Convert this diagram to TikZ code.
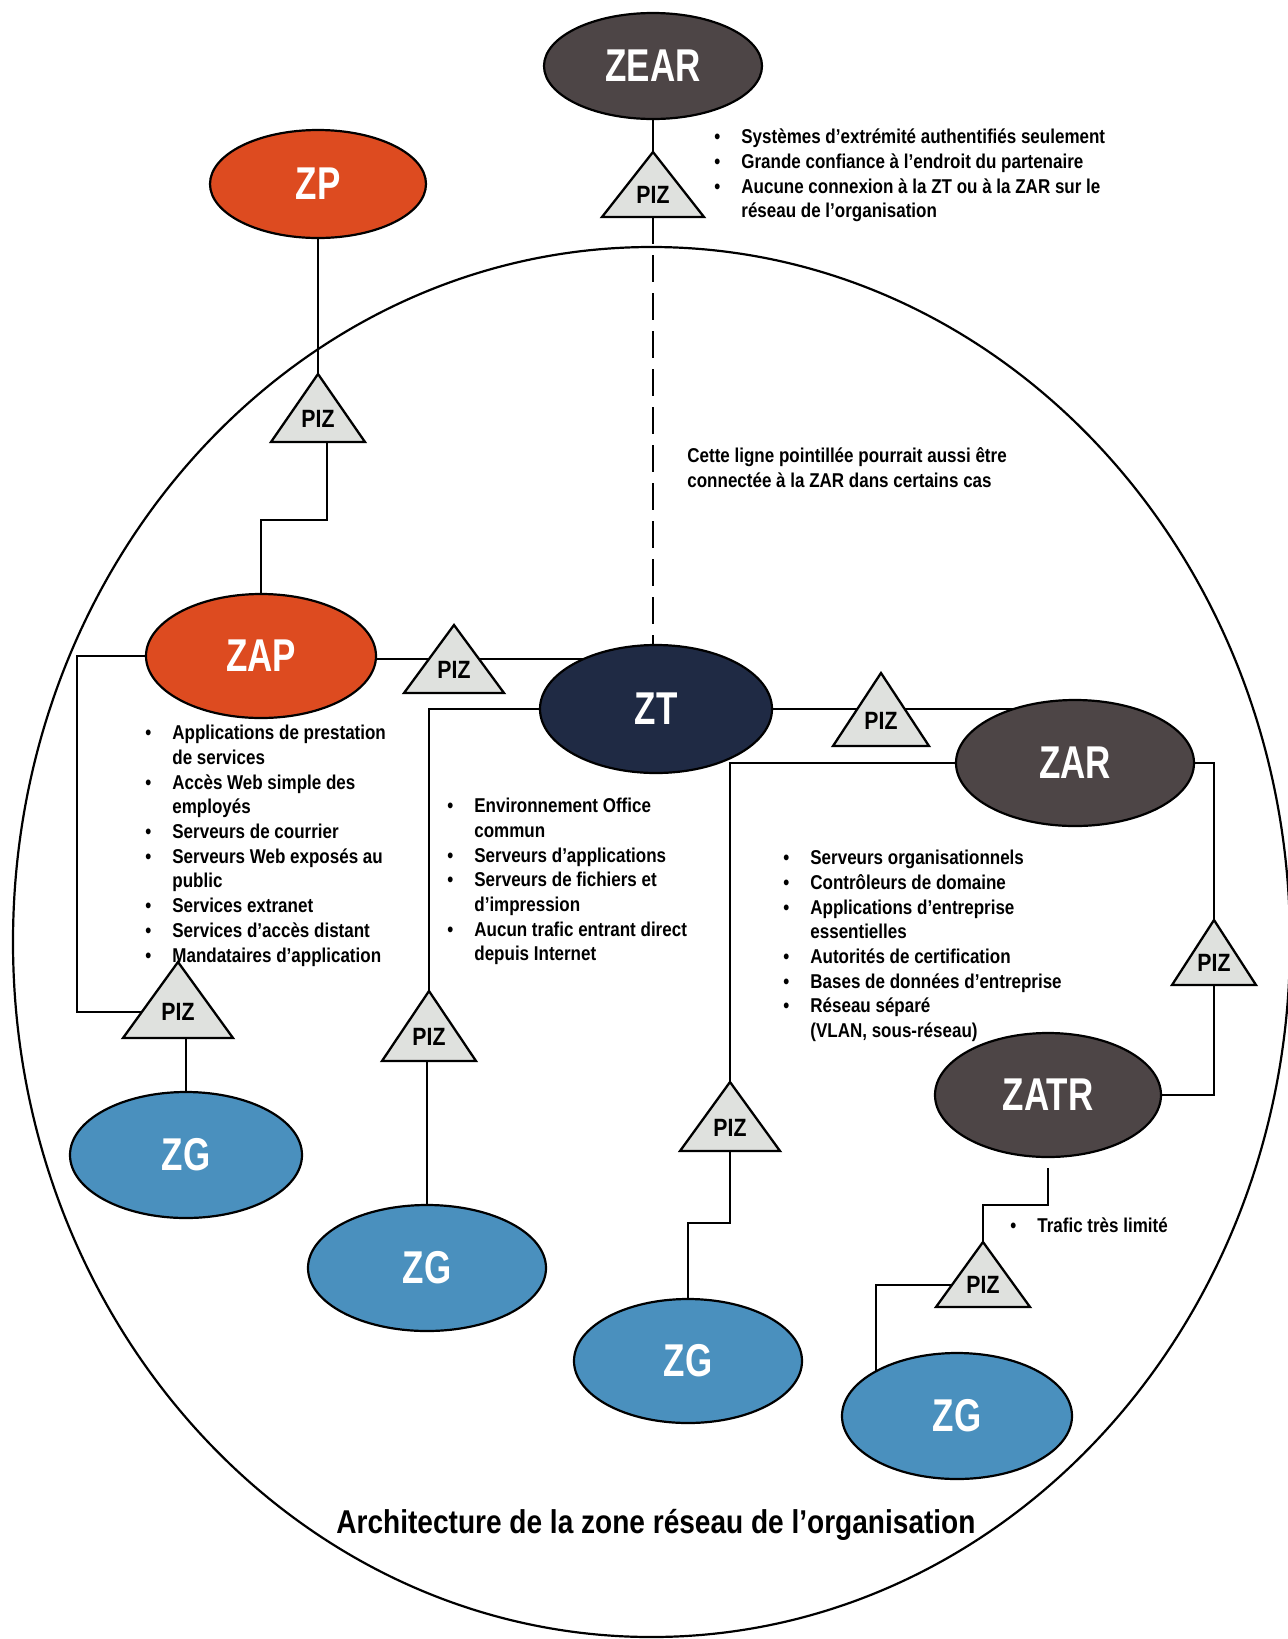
\documentclass[tikz,border=0pt]{standalone}
\usepackage{fontspec}
\setmainfont{Liberation Sans}[FakeStretch=0.85]
\newfontfamily\bigf{Liberation Sans}[FakeStretch=0.76]
\usetikzlibrary{shapes.geometric,calc}
\definecolor{zdark}{HTML}{4D4546}
\definecolor{zorange}{HTML}{DD4B20}
\definecolor{znavy}{HTML}{1F2A44}
\definecolor{zblue}{HTML}{4A90BE}
\definecolor{zgray}{HTML}{DFE1DE}
\pgfdeclarelayer{bg}
\pgfsetlayers{bg,main}
\newcommand\bl{\strut\makebox[13.5pt][l]{\textbullet}}
\newcommand\ct{\strut\hspace*{13.5pt}}
\newcommand\pizdraw[5]{%
  \coordinate (#1a) at (#2,#3);
  \coordinate (#1b) at (#2,#3+#5);
  \draw[tri] (#2,#3) -- (#2+#4,#3+#5) -- (#2-#4,#3+#5) -- cycle;
  \node[piz] (#1) at (#2,#3+0.66*#5) {PIZ};
}
\tikzset{
  zone/.style={ellipse, draw=black, line width=1.1pt, inner sep=0pt, text=white,
    font=\bigf\bfseries\fontsize{23}{26}\selectfont},
  conn/.style={line width=1.15pt, draw=black},
  tri/.style={draw=black, line width=1.15pt, fill=zgray, line join=miter},
  piz/.style={inner sep=0pt, font=\bfseries\fontsize{12.5}{14}\selectfont},
  bullets/.style={anchor=north west, inner sep=0pt, align=left,
    font=\bfseries\fontsize{10}{12.35}\selectfont},
}
\begin{document}
\begin{tikzpicture}[x=0.5pt,y=-0.5pt]
\useasboundingbox (0,0) rectangle (1287,1639);
\begin{pgfonlayer}{bg}
  \fill[white] (0,0) rectangle (1287,1639);
\end{pgfonlayer}

% zones
\node[zone, fill=zdark,   minimum width=109pt, minimum height=53pt] (ZEAR) at (653,66) {ZEAR};
\node[zone, fill=zorange, minimum width=108pt, minimum height=54pt] (ZP)   at (318,184) {ZP};
\node[zone, fill=zorange, minimum width=115pt, minimum height=62pt] (ZAP)  at (261,656) {ZAP};
\node[zone, fill=znavy,   minimum width=116pt, minimum height=64pt] (ZT)   at (656,709) {ZT};
\node[zone, fill=zdark,   minimum width=119pt, minimum height=63pt] (ZAR)  at (1075,763) {ZAR};
\node[zone, fill=zdark,   minimum width=113pt, minimum height=62pt] (ZATR) at (1048,1095) {ZATR};
\node[zone, fill=zblue,   minimum width=116pt, minimum height=63pt] (ZG1)  at (186,1155) {ZG};
\node[zone, fill=zblue,   minimum width=119pt, minimum height=63pt] (ZG2)  at (427,1268) {ZG};
\node[zone, fill=zblue,   minimum width=114pt, minimum height=62pt] (ZG3)  at (688,1361) {ZG};
\node[zone, fill=zblue,   minimum width=115pt, minimum height=63pt] (ZG4)  at (957,1416) {ZG};

% PIZ triangles
\pizdraw{pzear}{653}{152}{51}{65}
\pizdraw{pzp}{318}{374}{47}{68}
\pizdraw{pzapzt}{454}{625}{50}{68}
\pizdraw{pzapzg}{178}{962}{55}{76}
\pizdraw{pztzg}{429}{991}{47}{70}
\pizdraw{pztzar}{881}{673}{48}{73}
\pizdraw{pzarzg}{730}{1082}{50}{69}
\pizdraw{pzarzatr}{1214}{920}{42}{65}
\pizdraw{pzatrzg}{983}{1242}{47}{65}

% connectors and outer zone
\begin{pgfonlayer}{bg}
  \draw[line width=1.1pt] (651.5,942) ellipse [x radius=319.25pt, y radius=347.5pt];
  \draw[conn] (ZEAR.south) -- (pzeara);
  \draw[conn, dash pattern=on 13.5pt off 5.5pt] (pzearb) -- (pzearb |- ZT.north);
  \draw[conn] (ZP.south) -- (pzpa);
  \draw[conn] ($(pzpb)+(9,0)$) -- ++(0,78) -| (ZAP.north);
  \draw[conn] ($(ZAP.east)+(0,3)$) -- ($(ZAP.east -| ZT.center)+(0,3)$);
  \draw[conn] (ZAP.west) -- ++(-68,0) |- (pzapzg);
  \draw[conn] (pzapzgb -| ZG1.north) -- (ZG1.north);
  \draw[conn] (ZT.west) -| (pztzga);
  \draw[conn] (pztzgb -| ZG2.north) -- (ZG2.north);
  \draw[conn] (ZT.east) -- (ZT.east -| ZAR.center);
  \draw[conn] (ZAR.west) -| (pzarzga);
  \draw[conn] (pzarzgb) -- ++(0,72) -| (ZG3.north);
  \draw[conn] (ZAR.east) -| (pzarzatra);
  \draw[conn] (pzarzatrb) |- (ZATR.east);
  \draw[conn] ($(ZATR.south)+(0,10)$) -- ++(0,37) -| (pzatrzga);
  \draw[conn] (pzatrzg) -| ($(ZG4.center)+(-81,0)$);
\end{pgfonlayer}

% texts
\node[bullets] (tzear) at (714,126) {\bl Systèmes d’extrémité authentifiés seulement\\
  \bl Grande confiance à l’endroit du partenaire\\
  \bl Aucune connexion à la ZT ou à la ZAR sur le\\
  \ct réseau de l’organisation};
\node[bullets] (tnote) at (687,445) {\strut Cette ligne pointillée pourrait aussi être\\
  \strut connectée à la ZAR dans certains cas};
\node[bullets] (tzap) at (145,722) {\bl Applications de prestation\\
  \ct de services\\
  \bl Accès Web simple des\\
  \ct employés\\
  \bl Serveurs de courrier\\
  \bl Serveurs Web exposés au\\
  \ct public\\
  \bl Services extranet\\
  \bl Services d’accès distant\\
  \bl Mandataires d’application};
\node[bullets] (tzt) at (447,795) {\bl Environnement Office\\
  \ct commun\\
  \bl Serveurs d’applications\\
  \bl Serveurs de fichiers et\\
  \ct d’impression\\
  \bl Aucun trafic entrant direct\\
  \ct depuis Internet};
\node[bullets] (tzar) at (783,847) {\bl Serveurs organisationnels\\
  \bl Contrôleurs de domaine\\
  \bl Applications d’entreprise\\
  \ct essentielles\\
  \bl Autorités de certification\\
  \bl Bases de données d’entreprise\\
  \bl Réseau séparé\\
  \ct (VLAN, sous-réseau)};
\node[bullets] (tzatr) at (1010,1215) {\bl Trafic très limité};
\node[anchor=base, inner sep=0pt, font=\bfseries\fontsize{16.5}{20}\selectfont] (title) at (656,1533)
  {Architecture de la zone réseau de l’organisation};
\end{tikzpicture}
\end{document}
